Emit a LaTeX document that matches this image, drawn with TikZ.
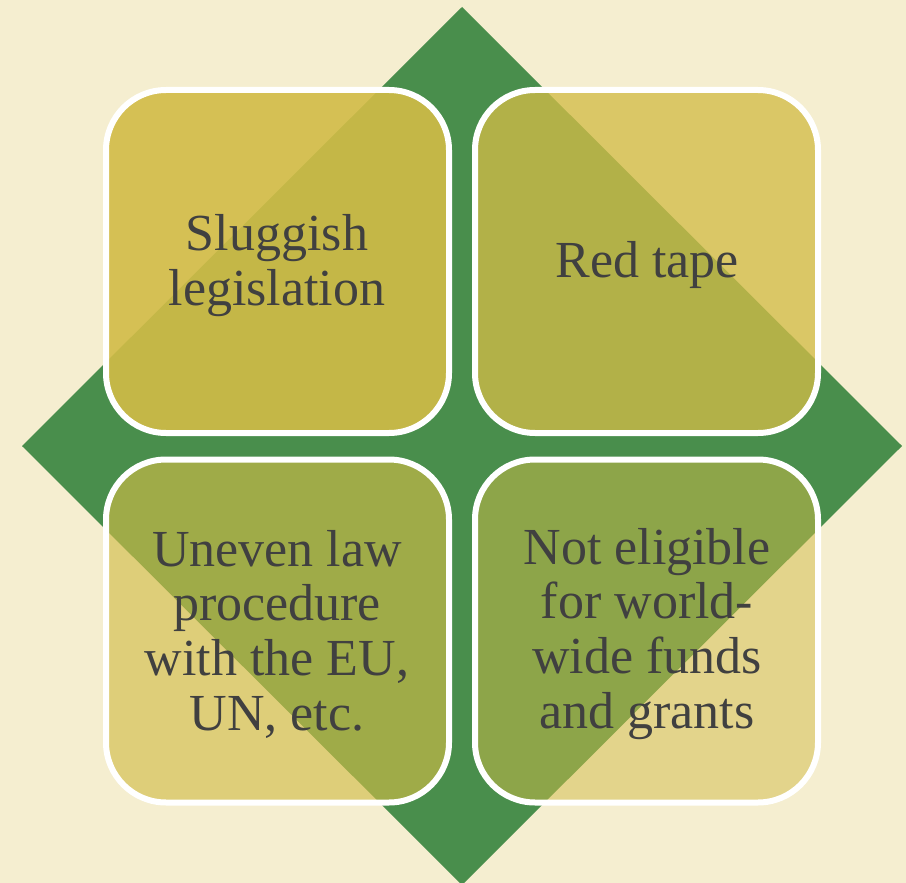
\documentclass[tikz,border=0pt]{standalone}
\usepackage{fontspec}
\setmainfont{Liberation Serif}
\definecolor{cream}{HTML}{F5EED0}
\definecolor{dgreen}{HTML}{498E4C}
\definecolor{gold}{HTML}{D2BC47}
\definecolor{txt}{HTML}{404040}
\begin{document}
\begin{tikzpicture}[x=1pt,y=-1pt,
  cell/.style={draw=white, line width=6pt, rounded corners=60pt, fill=gold,
    minimum width=343pt, minimum height=343pt, inner sep=0pt},
  lbl/.style={text=txt, align=center, inner sep=0pt, anchor=base,
    font=\fontsize{52}{54.6}\selectfont}]
\fill[cream] (0,0) rectangle (906,883);
\useasboundingbox (0,0) rectangle (906,883);
\fill[dgreen] (462,7) -- (902,446) -- (462,885) -- (22,446) -- cycle;
\node[cell, fill opacity=0.9]  (tl) at (277.5,261.5) {};
\node[cell, fill opacity=0.77] (tr) at (646.5,261.5) {};
\node[cell, fill opacity=0.63] (bl) at (277.5,631) {};
\node[cell, fill opacity=0.5]  (br) at (646.5,631) {};
\node[lbl] (ttl) at (277,305) {Sluggish\\legislation};
\node[lbl] (ttr) at (647,277) {Red tape};
\node[lbl] (tbl) at (277,730) {Uneven law\\procedure\\with the EU,\\UN, etc.};
\node[lbl] (tbr) at (647,728) {Not eligible\\for world-\\wide funds\\and grants};
\end{tikzpicture}
\end{document}
